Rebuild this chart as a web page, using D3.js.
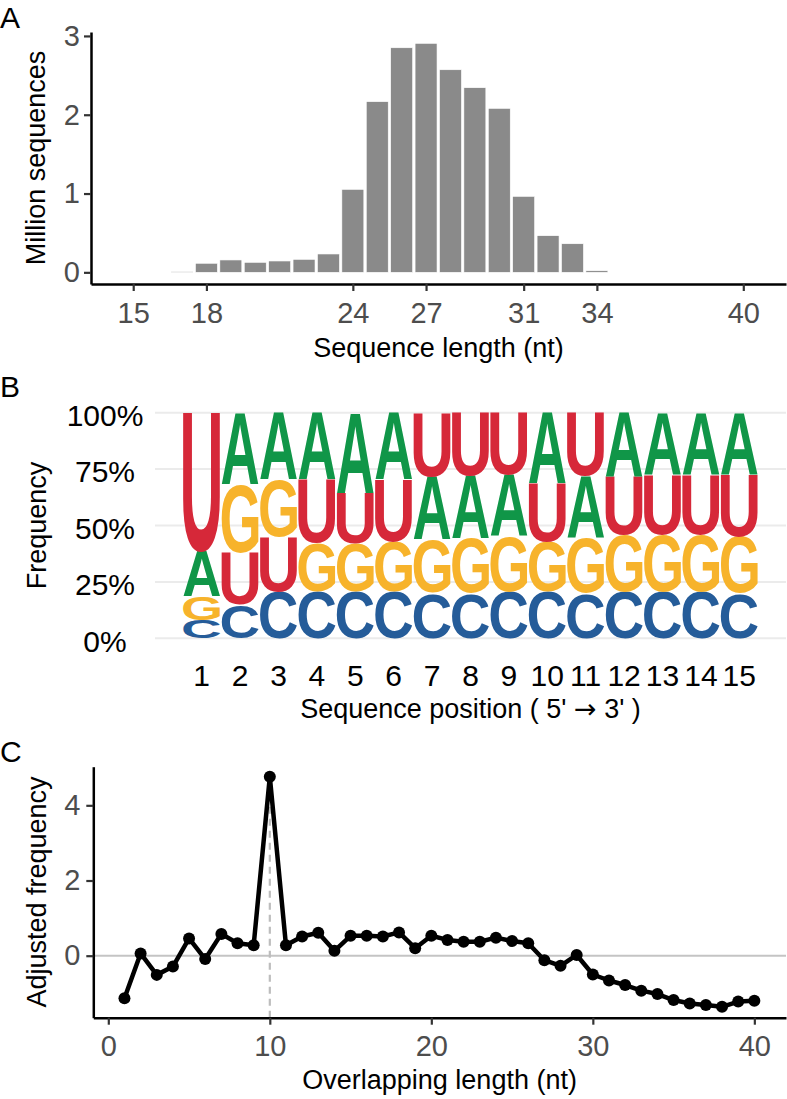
<!DOCTYPE html>
<html><head><meta charset="utf-8">
<script src="https://cdn.jsdelivr.net/npm/d3@7"></script>
<style>
html,body{margin:0;padding:0;background:#fff;}
text{font-family:"Liberation Sans",Arial,Helvetica,sans-serif;}
</style></head>
<body><svg id="c" width="787" height="1099"></svg>
<script>
// ---- Panel A: length distribution ----
const lengths = [17,18,19,20,21,22,23,24,25,26,27,28,29,30,31,32,33,34];
const millions = [0.008,0.115,0.157,0.127,0.144,0.165,0.233,1.053,2.166,2.85,2.906,2.571,2.343,2.081,0.964,0.465,0.363,0.02];
const lengthTicks = [15,18,24,27,31,34,40];
const millionTicks = [0,1,2,3];

// ---- Panel B: sequence logo (percent) ----
const positions = [1,2,3,4,5,6,7,8,9,10,11,12,13,14,15];
const freqA = [20.0,31.7,29.8,29.8,35.7,29.8,28.0,27.7,27.4,31.3,27.6,28.4,27.6,27.6,27.6];
const freqC = [8.1,14.8,20.7,20.7,20.7,20.7,20.0,20.0,20.7,20.7,20.0,20.7,20.7,20.7,20.0];
const freqG = [10.3,30.6,25.2,21.4,21.4,22.1,23.6,24.3,24.3,22.1,24.3,25.1,25.1,25.1,25.0];
const freqU = [61.6,22.9,24.3,28.1,22.2,27.4,28.4,28.0,27.6,25.9,28.1,25.8,26.6,26.6,27.4];
const pctTicks = [0,25,50,75,100];
const pctLabels = ["0%","25%","50%","75%","100%"];

// ---- Panel C: overlap ----
const overlap = [1,2,3,4,5,6,7,8,9,10,11,12,13,14,15,16,17,18,19,20,21,22,23,24,25,26,27,28,29,30,31,32,33,34,35,36,37,38,39,40];
const adjFreq = [-1.13,0.06,-0.51,-0.29,0.46,-0.09,0.58,0.33,0.28,4.76,0.28,0.51,0.61,0.13,0.53,0.53,0.51,0.62,0.20,0.53,0.42,0.37,0.37,0.48,0.39,0.33,-0.12,-0.27,0.02,-0.50,-0.66,-0.78,-0.93,-1.02,-1.18,-1.27,-1.31,-1.36,-1.22,-1.20];
const overlapTicks = [0,10,20,30,40];
const adjTicks = [0,2,4];

const svg = d3.select("#c");
svg.append("rect").attr("width",787).attr("height",1099).attr("fill","#fff");
const FONT = '"Liberation Sans",Arial,Helvetica,sans-serif';

function styleAxis(g, size, color){
  g.select(".domain").attr("stroke","#000").attr("stroke-width",2.5);
  g.selectAll(".tick line").attr("stroke","#333").attr("stroke-width",2.2);
  g.selectAll(".tick text").attr("font-size",size).attr("fill",color).attr("font-family",FONT);
}
function title(x,y,txt,rot){
  const t = svg.append("text").attr("font-size",27).attr("fill","#000").attr("text-anchor","middle").text(txt);
  if(rot){ t.attr("transform",`translate(${x},${y}) rotate(-90)`); }
  else { t.attr("x",x).attr("y",y); }
  return t;
}
function panelLabel(x,y,txt){
  svg.append("text").attr("x",x).attr("y",y).attr("font-size",30).attr("fill","#000").text(txt);
}

// ===== Panel A =====
const xA = d3.scaleLinear().domain([13.27,41.75]).range([91,786]);
const yA = d3.scaleLinear().domain([-0.148,3.05]).range([284,32]);
svg.append("g").selectAll("rect").data(lengths).join("rect")
  .attr("x",(d)=>xA(d-0.45)).attr("width",xA(0.9)-xA(0))
  .attr("y",(d,i)=>yA(millions[i])).attr("height",(d,i)=>yA(0)-yA(millions[i]))
  .attr("fill","#8a8a8a").attr("stroke","#fff").attr("stroke-width",0.6);
const axA_l = svg.append("g").attr("transform","translate(91,0)")
  .call(d3.axisLeft(yA).tickValues(millionTicks).tickFormat(d3.format("d")).tickSize(7).tickSizeOuter(0).tickPadding(4));
styleAxis(axA_l,29,"#4d4d4d");
const axA_b = svg.append("g").attr("transform","translate(0,284)")
  .call(d3.axisBottom(xA).tickValues(lengthTicks).tickFormat(d3.format("d")).tickSize(7).tickSizeOuter(0).tickPadding(11));
styleAxis(axA_b,29,"#4d4d4d");
title(438.5,357,"Sequence length (nt)");
title(45,158,"Million sequences",true);
panelLabel(0,28,"A");

// ===== Panel B =====
const xB = d3.scaleLinear().domain([-0.216,16.216]).range([155,786]);
const yB = d3.scaleLinear().domain([0,100]).range([638.3,412.7]);
svg.append("g").selectAll("line").data(pctTicks).join("line")
  .attr("x1",155).attr("x2",786).attr("y1",d=>yB(d)).attr("y2",d=>yB(d))
  .attr("stroke","#ebebeb").attr("stroke-width",2);
svg.append("g").selectAll("text").data(pctTicks).join("text")
  .attr("x",105).attr("y",d=>yB(d)+13.3).attr("text-anchor","middle")
  .attr("font-size",30).attr("fill","#000").text((d,i)=>pctLabels[i]);
svg.append("g").selectAll("text").data(positions).join("text")
  .attr("x",d=>xB(d)).attr("y",685.7).attr("text-anchor","middle")
  .attr("font-size",30).attr("fill","#000").text(d=>d);

const colors = {A:"#109648",C:"#255C99",G:"#F7B32B",U:"#D62839"};
const LFONT = 'bold 200px "Liberation Sans", Arial, sans-serif';
const cv = document.createElement("canvas").getContext("2d");
cv.font = LFONT;
const metrics = {};
["A","C","G","U"].forEach(l=>{
  const m = cv.measureText(l);
  metrics[l] = {L:m.actualBoundingBoxLeft,R:m.actualBoundingBoxRight,A:m.actualBoundingBoxAscent,D:m.actualBoundingBoxDescent};
});
const logoG = svg.append("g");
const letterW = (xB(1)-xB(0))*0.96;
positions.forEach((p,i)=>{
  const col = [{l:"A",v:freqA[i]},{l:"C",v:freqC[i]},{l:"G",v:freqG[i]},{l:"U",v:freqU[i]}]
    .sort((a,b)=>a.v-b.v);
  let base = 0;
  col.forEach(o=>{
    const m = metrics[o.l];
    const x0 = xB(p)-letterW/2;
    const yTop = yB(base+o.v), yBot = yB(base);
    const h = yBot-yTop;
    const sx = letterW/(m.L+m.R), sy = h/(m.A+m.D);
    logoG.append("text").text(o.l)
      .attr("font-size",200).attr("font-weight","bold").attr("fill",colors[o.l])
      .attr("transform",`translate(${x0},${yTop}) scale(${sx},${sy}) translate(${m.L},${m.A})`);
    base += o.v;
  });
});
const tB = title(470.5,718.3,"");
tB.append("tspan").text("Sequence position ( 5' ");
tB.append("tspan").attr("font-family","DejaVu Sans").text("\u2192");
tB.append("tspan").text(" 3' )");
title(46,525.5,"Frequency",true);
panelLabel(0,397,"B");

// ===== Panel C =====
const xC = d3.scaleLinear().domain([-0.929,41.96]).range([93.3,786]);
const yC = d3.scaleLinear().domain([-1.649,5.027]).range([1017.7,766.7]);
svg.append("line").attr("x1",93.3).attr("x2",786).attr("y1",yC(0)).attr("y2",yC(0))
  .attr("stroke","#c4c4c4").attr("stroke-width",2);
const peakIdx = adjFreq.indexOf(d3.max(adjFreq));
svg.append("line").attr("x1",xC(overlap[peakIdx])).attr("x2",xC(overlap[peakIdx]))
  .attr("y1",yC.range()[0]).attr("y2",yC(adjFreq[peakIdx]))
  .attr("stroke","#bdbdbd").attr("stroke-width",2.2).attr("stroke-dasharray","7,5");
const line = d3.line().x((d,i)=>xC(overlap[i])).y(d=>yC(d));
svg.append("path").datum(adjFreq).attr("d",line).attr("fill","none")
  .attr("stroke","#000").attr("stroke-width",4.5).attr("stroke-linejoin","round");
svg.append("g").selectAll("circle").data(adjFreq).join("circle")
  .attr("cx",(d,i)=>xC(overlap[i])).attr("cy",d=>yC(d)).attr("r",6).attr("fill","#000");
const axC_l = svg.append("g").attr("transform","translate(93.3,0)")
  .call(d3.axisLeft(yC).tickValues(adjTicks).tickFormat(d3.format("d")).tickSize(7).tickSizeOuter(0).tickPadding(6));
styleAxis(axC_l,29,"#4d4d4d");
const axC_b = svg.append("g").attr("transform","translate(0,1017.7)")
  .call(d3.axisBottom(xC).tickValues(overlapTicks).tickFormat(d3.format("d")).tickSize(7).tickSizeOuter(0).tickPadding(11));
styleAxis(axC_b,29,"#4d4d4d");
title(439.6,1089,"Overlapping length (nt)");
title(46,892,"Adjusted frequency",true);
panelLabel(0,762,"C");
</script></body></html>
